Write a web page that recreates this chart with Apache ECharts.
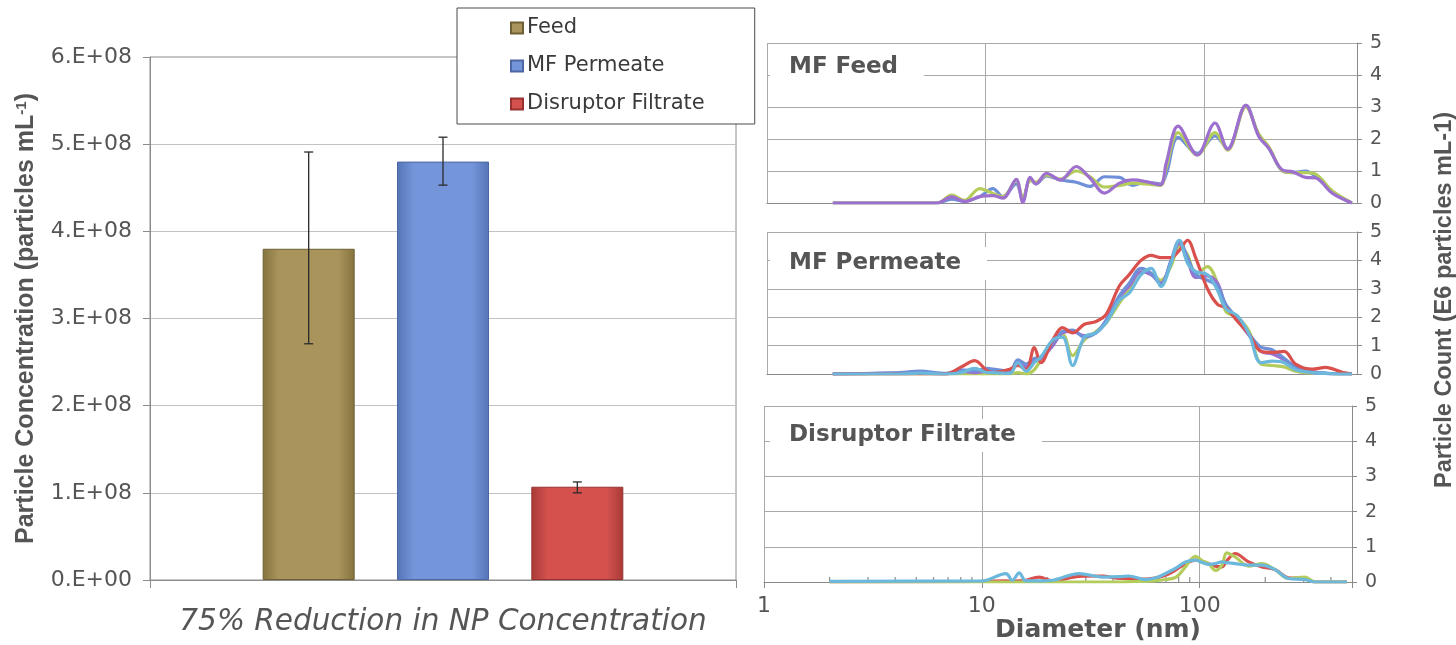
<!DOCTYPE html>
<html>
<head>
<meta charset="utf-8">
<script src="https://cdn.jsdelivr.net/npm/echarts@6/dist/echarts.min.js"></script>
<style>
  html, body { margin: 0; padding: 0; background: #fff; }
  #chart { width: 1456px; height: 645px; }
</style>
</head>
<body>
<div id="chart"></div>
<script>
// ---- Total particle concentration (left bar chart) ----
const barSeriesNames = ['Feed', 'MF Permeate', 'Disruptor Filtrate'];
const barCategory = ['75% Reduction in NP Concentration'];
const concentration = [3.8e8, 4.8e8, 1.07e8];
const concErrLow = [2.71e8, 4.53e8, 1.0e8];
const concErrHigh = [4.91e8, 5.08e8, 1.125e8];
const concTicks = [0, 1e8, 2e8, 3e8, 4e8, 5e8, 6e8];

// ---- Size distributions (right panels), diameter in nm, count in E6 particles/mL ----
const panelTitles = ['MF Feed', 'MF Permeate', 'Disruptor Filtrate'];
const diameterTicks = [1, 10, 100];
const countTicks = [0, 1, 2, 3, 4, 5];

const feedDiam = [2, 6, 7, 8, 9.4, 10.8, 12, 13.8, 14.8, 16, 17, 19, 22, 26, 30, 35, 41, 47, 54, 63, 67, 76, 93, 112, 128, 155, 178, 198, 228, 253, 291, 324, 385, 474];
const feedRunA = [0, 0, 0.12, 0.05, 0.2, 0.45, 0.2, 0.6, 0.1, 0.75, 0.6, 0.85, 0.72, 0.65, 0.52, 0.82, 0.8, 0.55, 0.65, 0.6, 0.9, 2.05, 1.55, 2.1, 1.7, 3.05, 2.1, 1.7, 1.0, 0.95, 1.0, 0.82, 0.35, 0];
const feedRunB = [0, 0, 0.25, 0.08, 0.45, 0.3, 0.2, 0.7, 0.15, 0.7, 0.65, 0.88, 0.75, 1.0, 0.82, 0.5, 0.55, 0.62, 0.6, 0.55, 1.1, 2.2, 1.5, 2.2, 1.65, 3.0, 2.15, 1.75, 1.0, 0.95, 0.95, 0.9, 0.38, 0];
const feedRunC = [0, 0, 0.19, 0.05, 0.2, 0.23, 0.15, 0.74, 0.02, 0.8, 0.6, 0.93, 0.72, 1.14, 0.78, 0.31, 0.62, 0.72, 0.67, 0.57, 1.24, 2.4, 1.5, 2.5, 1.68, 3.05, 2.07, 1.7, 1.03, 0.98, 0.8, 0.78, 0.31, 0];

const permDiam = [2, 4.05, 5.0, 6.61, 7.74, 8.91, 10.2, 10.8, 12.9, 14.05, 15.35, 16.7, 17.9, 20.3, 22.5, 25.0, 28.3, 32.0, 35.6, 40.9, 45.4, 51.4, 57.1, 63.4, 70.5, 76.9, 83.9, 91.6, 103.5, 115, 125.6, 141.9, 160.6, 181.6, 205, 232, 262, 312, 359, 428, 474];
const permRunA = [0, 0.05, 0.1, 0.02, 0.15, 0.1, 0.2, 0.17, 0.1, 0.5, 0.35, 0.55, 0.6, 1.1, 1.5, 1.55, 1.3, 1.45, 1.9, 2.75, 3.2, 3.72, 3.55, 3.15, 4.0, 4.7, 4.1, 3.5, 3.3, 3.1, 2.45, 1.95, 1.4, 0.95, 0.85, 0.55, 0.25, 0.08, 0.03, 0, 0];
const permRunB = [0, 0, 0, 0, 0, 0, 0, 0, 0, 0.05, 0, 0.15, 0.5, 1.05, 1.4, 0.65, 1.2, 1.5, 1.8, 2.5, 3.0, 3.6, 3.55, 3.3, 3.8, 4.5, 4.2, 3.5, 3.78, 3.2, 2.2, 2.0, 1.5, 0.35, 0.3, 0.25, 0.1, 0.03, 0.02, 0, 0];
const permRunC = [0, 0.03, 0.05, 0, 0.1, 0.05, 0.1, 0.1, 0.05, 0.4, 0.25, 0.5, 0.55, 1.0, 1.45, 1.5, 1.35, 1.45, 1.85, 2.7, 3.1, 3.6, 3.5, 3.2, 3.95, 4.6, 4.0, 3.4, 3.45, 3.2, 2.4, 1.9, 1.35, 0.8, 0.7, 0.5, 0.2, 0.05, 0.02, 0, 0];
const permRunD = [0, 0, 0, 0, 0.25, 0.47, 0.1, 0.05, 0.17, 0.3, 0.15, 0.93, 0.4, 1.2, 1.63, 1.45, 1.75, 1.85, 2.1, 3.1, 3.5, 4.0, 4.18, 4.1, 4.1, 4.35, 4.71, 4.07, 3.0, 2.45, 2.33, 1.86, 1.4, 0.8, 0.76, 0.8, 0.35, 0.17, 0.23, 0.06, 0];
const permRunE = [0, 0, 0.03, 0, 0.05, 0.2, 0.05, 0.05, 0.02, 0.4, 0.1, 0.4, 0.6, 1.2, 1.3, 0.3, 1.3, 1.45, 1.8, 2.6, 2.85, 3.5, 3.72, 3.08, 3.9, 4.71, 3.9, 3.6, 3.5, 2.95, 2.3, 2.05, 1.4, 0.4, 0.45, 0.4, 0.15, 0.05, 0.02, 0, 0];

const filtDiam = [2, 10, 12.9, 13.8, 14.85, 15.9, 18.3, 21.1, 27.9, 35.7, 43, 47.3, 56.4, 63, 69.7, 78, 86, 95.5, 103, 110, 118, 126.5, 133, 145.6, 167.6, 192.8, 222, 255, 304, 338, 474];
const filtRunA = [0, 0.02, 0.03, 0.02, 0.03, 0.05, 0.14, 0.03, 0.16, 0.17, 0.1, 0.1, 0.08, 0.12, 0.19, 0.35, 0.52, 0.62, 0.58, 0.52, 0.45, 0.43, 0.6, 0.81, 0.57, 0.43, 0.35, 0.12, 0.1, 0, 0];
const filtRunB = [0, 0, 0, 0, 0, 0, 0, 0, 0, 0, 0, 0.01, 0.02, 0.04, 0.07, 0.14, 0.43, 0.73, 0.6, 0.52, 0.33, 0.48, 0.83, 0.71, 0.45, 0.52, 0.35, 0.1, 0.14, 0, 0];
const filtRunC = [0.02, 0.03, 0.24, 0.05, 0.26, 0.03, 0.03, 0.05, 0.24, 0.14, 0.15, 0.17, 0.07, 0.12, 0.24, 0.4, 0.57, 0.62, 0.55, 0.5, 0.52, 0.57, 0.55, 0.52, 0.48, 0.48, 0.35, 0.1, 0.07, 0, 0];

// log-axis minor tick positions on the bottom panel
const minorTickDiam = [2, 3, 4, 5, 6, 7, 8, 9, 20, 30, 40, 50, 60, 70, 80, 90, 200, 300, 400];

// ---- styling ----
const FONT = '"DejaVu Sans", "Liberation Sans", Arial, sans-serif';
const FONT_TITLE = '"Liberation Sans", Arial, sans-serif';
const TEXT_GRAY = '#555';
const BAR_W = 92;
const BAR_GAP = 0.46;
const BAR_STEP = BAR_W * (1 + BAR_GAP);

const C_GREEN = '#b4cc5c';
const C_BLUE = '#6f8fd8';
const C_PURPLE = '#9d6fcf';
const C_RED = '#d9504d';
const C_CYAN = '#6cb8dc';

function barGradient(edge, mid) {
  return new echarts.graphic.LinearGradient(0, 0, 1, 0, [
    { offset: 0, color: edge },
    { offset: 0.18, color: mid },
    { offset: 0.82, color: mid },
    { offset: 1, color: edge }
  ]);
}
const barColors = [
  barGradient('#85733f', '#a9955c'),
  barGradient('#5574b8', '#7495d9'),
  barGradient('#a83a37', '#d4514e')
];
const barBorders = ['#6e5f35', '#4d67a3', '#963330'];

function renderErrorBar(params, api) {
  const k = api.value(3);
  const lo = api.coord([api.value(0), api.value(1)]);
  const hi = api.coord([api.value(0), api.value(2)]);
  const x = lo[0] + (k - 1) * BAR_STEP;
  const cap = 4.5;
  const st = { stroke: '#2a2a2a', lineWidth: 1.3 };
  return {
    type: 'group',
    children: [
      { type: 'line', shape: { x1: x, y1: hi[1], x2: x, y2: lo[1] }, style: st },
      { type: 'line', shape: { x1: x - cap, y1: hi[1], x2: x + cap, y2: hi[1] }, style: st },
      { type: 'line', shape: { x1: x - cap, y1: lo[1], x2: x + cap, y2: lo[1] }, style: st }
    ]
  };
}

function lineSeries(name, axisIdx, xs, ys, color) {
  return {
    type: 'line',
    name: name,
    xAxisIndex: axisIdx,
    yAxisIndex: axisIdx,
    data: xs.map((d, i) => [d, ys[i]]),
    smooth: 0.35,
    showSymbol: false,
    silent: true,
    z: 3,
    lineStyle: { width: 3.2, color: color },
    itemStyle: { color: color }
  };
}

const panelGrids = [
  { left: 767, top: 43, width: 590, height: 160 },
  { left: 767, top: 232, width: 590, height: 142 },
  { left: 764, top: 406, width: 588, height: 176 }
];

function panelXAxis(idx, isBottom) {
  return {
    type: 'log',
    logBase: 10,
    gridIndex: idx + 1,
    min: 1,
    max: 500,
    axisLine: { show: true, onZero: false, lineStyle: { color: '#8a8a8a', width: 1 } },
    axisTick: { show: isBottom, length: 6, inside: false, lineStyle: { color: '#8a8a8a' } },
    axisLabel: {
      show: isBottom,
      fontFamily: FONT,
      fontSize: 22,
      color: TEXT_GRAY,
      margin: 13,
      showMinLabel: true,
      formatter: v => (diameterTicks.indexOf(Math.round(v)) >= 0 && Math.abs(v - Math.round(v)) < 1e-6) ? String(Math.round(v)) : ''
    },
    splitLine: { show: true, lineStyle: { color: '#a9a9a9', width: 1 } },
    name: isBottom ? 'Diameter (nm)' : '',
    nameLocation: 'middle',
    nameGap: 34,
    nameTextStyle: {
      fontFamily: FONT,
      fontWeight: 'bold',
      fontSize: 25,
      color: TEXT_GRAY,
      padding: [0, 0, 0, 80]
    }
  };
}

function panelYAxis(idx) {
  return {
    type: 'value',
    gridIndex: idx + 1,
    position: 'right',
    min: countTicks[0],
    max: countTicks[countTicks.length - 1],
    interval: 1,
    axisLine: { show: true, lineStyle: { color: '#8a8a8a', width: 1 } },
    axisTick: { show: true, length: 5, lineStyle: { color: '#8a8a8a' } },
    axisLabel: { fontFamily: FONT, fontSize: 19, color: TEXT_GRAY, margin: 13 },
    splitLine: { show: true, lineStyle: { color: '#a9a9a9', width: 1 } }
  };
}

const panelLabelTops = [51, 247, 419];

const option = {
  animation: false,
  backgroundColor: '#fff',
  grid: [
    { left: 150, top: 57, width: 586, height: 523, show: true, borderColor: '#8c8c8c', borderWidth: 1, backgroundColor: 'transparent' }
  ].concat(panelGrids),
  legend: {
    data: barSeriesNames,
    orient: 'vertical',
    left: 457,
    top: 8,
    padding: [8, 50, 8, 53],
    itemGap: 14,
    itemWidth: 12,
    itemHeight: 11,
    icon: 'rect',
    backgroundColor: '#fff',
    borderColor: '#4a4a4a',
    borderWidth: 1,
    z: 20,
    selectedMode: false,
    textStyle: { fontFamily: FONT, fontSize: 21, color: '#3a3a3a', lineHeight: 24, padding: [0, 0, 0, -1] }
  },
  xAxis: [
    {
      type: 'category',
      gridIndex: 0,
      data: barCategory,
      axisLine: { lineStyle: { color: '#8c8c8c', width: 1 } },
      axisTick: { show: true, length: 8, interval: 0, lineStyle: { color: '#8c8c8c' } },
      axisLabel: { fontFamily: FONT, fontStyle: 'italic', fontSize: 29.5, color: TEXT_GRAY, margin: 27 }
    },
    panelXAxis(0, false),
    panelXAxis(1, false),
    panelXAxis(2, true)
  ],
  yAxis: [
    {
      type: 'value',
      gridIndex: 0,
      min: concTicks[0],
      max: concTicks[concTicks.length - 1],
      interval: 1e8,
      axisLine: { show: true, lineStyle: { color: '#8c8c8c', width: 1 } },
      axisTick: { show: true, length: 7, lineStyle: { color: '#8c8c8c' } },
      axisLabel: {
        fontFamily: FONT,
        fontSize: 22,
        color: TEXT_GRAY,
        margin: 18,
        formatter: v => v === 0 ? '0.E+00' : (Math.round(v / 1e8) + '.E+08')
      },
      splitLine: { show: true, lineStyle: { color: '#c2c2c2', width: 1 } },
      name: 'Particle Concentration (particles mL{sup|-1})',
      nameLocation: 'middle',
      nameGap: 111,
      nameRotate: 90,
      nameTextStyle: {
        fontFamily: FONT_TITLE,
        fontWeight: 'bold',
        fontSize: 25,
        color: TEXT_GRAY,
        rich: {
          sup: { fontFamily: FONT_TITLE, fontWeight: 'bold', fontSize: 15, color: TEXT_GRAY, verticalAlign: 'top', lineHeight: 25 }
        }
      }
    },
    panelYAxis(0),
    panelYAxis(1),
    panelYAxis(2)
  ],
  graphic: panelTitles.map((t, i) => ({
    type: 'text',
    left: 770,
    top: panelLabelTops[i],
    z: 10,
    silent: true,
    style: {
      text: t,
      font: 'bold 23px ' + FONT,
      fill: TEXT_GRAY,
      backgroundColor: '#fff',
      padding: [5, 26, 5, 19]
    }
  })).concat([
    {
      type: 'text',
      x: 1445,
      y: 300,
      rotation: Math.PI / 2,
      z: 10,
      silent: true,
      style: {
        text: 'Particle Count (E6 particles mL-1)',
        font: 'bold 23.5px ' + FONT_TITLE,
        fill: TEXT_GRAY,
        align: 'center',
        verticalAlign: 'middle'
      }
    }
  ]),
  series: barSeriesNames.map((name, i) => ({
    type: 'bar',
    name: name,
    xAxisIndex: 0,
    yAxisIndex: 0,
    barWidth: BAR_W,
    barGap: (BAR_GAP * 100) + '%',
    data: [concentration[i]],
    itemStyle: { color: barColors[i], borderColor: barBorders[i], borderWidth: 1 },
    z: 2
  })).concat([
    {
      type: 'custom',
      name: 'error',
      xAxisIndex: 0,
      yAxisIndex: 0,
      renderItem: renderErrorBar,
      encode: { x: 0, y: [1, 2] },
      data: barSeriesNames.map((n, i) => [0, concErrLow[i], concErrHigh[i], i]),
      z: 5,
      silent: true
    },
    // MF Feed runs
    lineSeries('Feed run 1', 1, feedDiam, feedRunA, C_BLUE),
    lineSeries('Feed run 2', 1, feedDiam, feedRunB, C_GREEN),
    lineSeries('Feed run 3', 1, feedDiam, feedRunC, C_PURPLE),
    // MF Permeate runs
    lineSeries('Permeate run 1', 2, permDiam, permRunB, C_GREEN),
    lineSeries('Permeate run 2', 2, permDiam, permRunC, C_PURPLE),
    lineSeries('Permeate run 3', 2, permDiam, permRunA, C_BLUE),
    lineSeries('Permeate run 4', 2, permDiam, permRunD, C_RED),
    lineSeries('Permeate run 5', 2, permDiam, permRunE, C_CYAN),
    // Disruptor Filtrate runs
    lineSeries('Filtrate run 1', 3, filtDiam, filtRunA, C_RED),
    lineSeries('Filtrate run 2', 3, filtDiam, filtRunB, C_GREEN),
    lineSeries('Filtrate run 3', 3, filtDiam, filtRunC, C_CYAN),
    {
      type: 'scatter',
      name: 'minor ticks',
      xAxisIndex: 3,
      yAxisIndex: 3,
      data: minorTickDiam.map(d => [d, 0]),
      symbol: 'rect',
      symbolSize: [1.3, 5],
      symbolOffset: [0, -2.5],
      itemStyle: { color: '#7a7a7a' },
      silent: true,
      z: 1
    }
  ])
};

const chart = echarts.init(document.getElementById('chart'), null, { renderer: 'canvas' });
chart.setOption(option);
</script>
</body>
</html>
